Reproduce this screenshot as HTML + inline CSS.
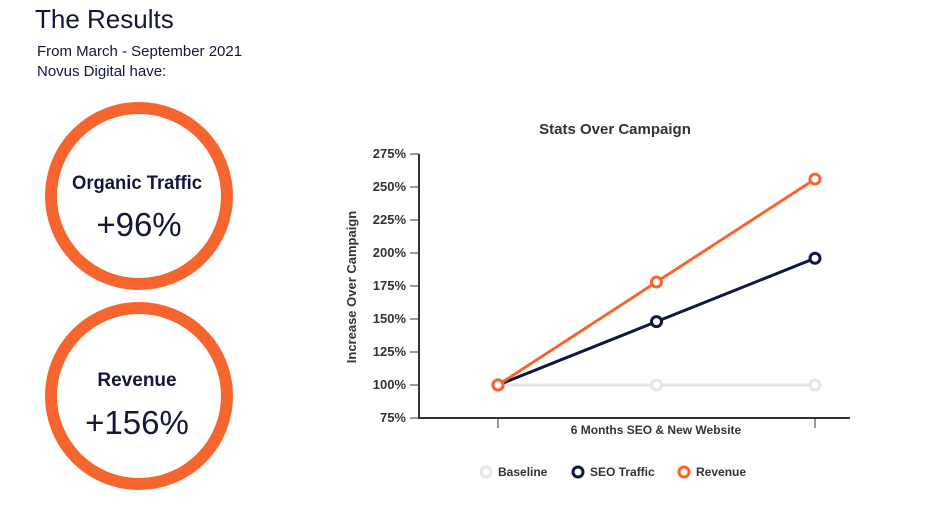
<!DOCTYPE html>
<html><head><meta charset="utf-8"><style>
body{margin:0;width:950px;height:511px;background:#fff;overflow:hidden;font-family:"Liberation Sans",sans-serif;color:#14163a}
</style></head><body>
<svg width="950" height="511" xmlns="http://www.w3.org/2000/svg">
<text x="35" y="28" font-size="26" fill="#14163a">The Results</text>
<text x="37" y="56" font-size="15" fill="#14163a">From March - September 2021</text>
<text x="37" y="76" font-size="15" fill="#14163a">Novus Digital have:</text>
<g>
<circle cx="139" cy="196" r="88" fill="none" stroke="#f5652d" stroke-width="12"/>
<text x="137" y="189" font-size="19" font-weight="bold" text-anchor="middle" fill="#14163a" textLength="130" lengthAdjust="spacingAndGlyphs">Organic Traffic</text>
<text x="139" y="236" font-size="33" text-anchor="middle" fill="#14163a">+96%</text>
</g>
<g>
<circle cx="139" cy="396" r="88" fill="none" stroke="#f5652d" stroke-width="12"/>
<text x="137" y="386" font-size="19" font-weight="bold" text-anchor="middle" fill="#14163a">Revenue</text>
<text x="137" y="434" font-size="33" text-anchor="middle" fill="#14163a">+156%</text>
</g>
<g id="chart"></g>
</svg>
<script>
const categories=["Start","Mid","6 Months"];
const baseline=[100,100,100];
const seoTraffic=[100,148,196];
const revenue=[100,178,256];
const yTicks=[75,100,125,150,175,200,225,250,275];
const NS="http://www.w3.org/2000/svg";
const g=document.getElementById('chart');
const y=v=>418-(v-75)*264/200;
const x=i=>498+i*158.5;
function mk(t,a,p){const e=document.createElementNS(NS,t);for(const k in a)e.setAttribute(k,a[k]);(p||g).appendChild(e);return e;}
let t=mk('text',{x:615,y:134,'font-size':15,'font-weight':'bold','text-anchor':'middle',fill:'#333'});t.textContent='Stats Over Campaign';


yTicks.forEach(v=>{
 const l=mk('text',{x:406,y:y(v)+4,'font-size':13,'font-weight':'bold','text-anchor':'end',fill:'#333'});l.textContent=v+'%';
 
 
 const tk=mk('line',{x1:410,x2:419,y1:y(v),y2:y(v),stroke:'#333','stroke-width':1});
 
 
});
const ax=mk('path',{d:'M419 154 V418 H850',fill:'none',stroke:'#333','stroke-width':2});


[0,2].forEach(i=>{const tk=mk('line',{x1:x(i),x2:x(i),y1:418,y2:428,stroke:'#333'});
 
 });
t=mk('text',{x:656,y:434,'font-size':12,'font-weight':'bold','text-anchor':'middle',fill:'#333'});t.textContent='6 Months SEO & New Website';


t=mk('text',{x:0,y:0,'font-size':13,'font-weight':'bold','text-anchor':'middle',fill:'#333',transform:'translate(356,287) rotate(-90)'});t.textContent='Increase Over Campaign';


const series=[[baseline,'#e6e6e6','baseline'],[seoTraffic,'#0e1840','seo-traffic'],[revenue,'#f5652d','revenue']];
series.forEach(([d,c,n])=>{
 const p=mk('polyline',{points:d.map((v,i)=>x(i)+','+y(v)).join(' '),fill:'none',stroke:c,'stroke-width':3});
 
 
 d.forEach((v,i)=>{const m=mk('circle',{cx:x(i),cy:y(v),r:5,fill:'#fff',stroke:c,'stroke-width':3});
  
  });
});
[['Baseline','#e6e6e6',486],['SEO Traffic','#0e1840',578],['Revenue','#f5652d',684]].forEach(([n,c,lx])=>{
 const lg=mk('g',{});
 
 
 mk('circle',{cx:lx,cy:472,r:5,fill:'#fff',stroke:c,'stroke-width':3},lg);
 const tx=mk('text',{x:lx+12,y:476,'font-size':12,'font-weight':'bold',fill:'#333'},lg);tx.textContent=n;
});
</script>
</body></html>
